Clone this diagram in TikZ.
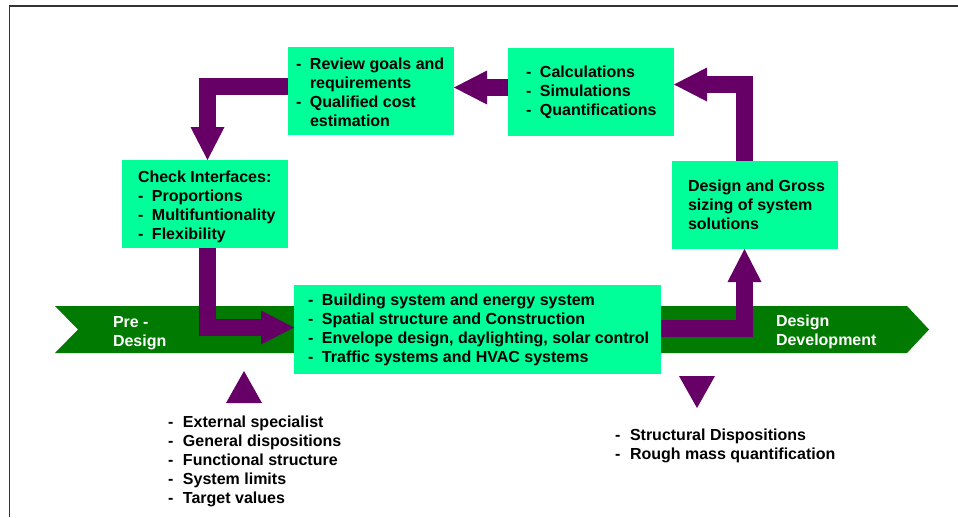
\documentclass[tikz,border=0pt]{standalone}
\usepackage{fontspec}
\setmainfont{Liberation Sans}
\usetikzlibrary{arrows.meta}
\definecolor{boxgreen}{HTML}{00FF99}
\definecolor{bandgreen}{HTML}{007A00}
\definecolor{purp}{HTML}{660066}
\definecolor{framegray}{HTML}{333333}
\newcommand{\dashitem}[2][14pt]{\makebox[#1][l]{-}#2}
\newcommand{\hangitem}[2][14pt]{\hspace*{#1}#2}
\newcommand{\ltab}[1]{\begin{tabular}[t]{@{}l@{}}#1\end{tabular}}
\begin{document}
\begin{tikzpicture}[x=1pt,y=-1pt,
  box/.style={fill=boxgreen, draw=none, inner sep=0pt, outer sep=0pt, anchor=north west},
  lbl/.style={anchor=base west, inner sep=0pt, outer sep=0pt, font=\fontsize{16}{19}\selectfont\bfseries, text=black},
  wlbl/.style={lbl, text=white},
  fat/.style={draw=purp, line width=17pt, line join=miter, line cap=butt, -{Triangle[length=33pt,width=34pt,line width=0pt]}},
  tri/.style={fill=purp}]
\useasboundingbox (0,0) rectangle (958,517);
% frame
\draw[framegray, line width=1.5pt] (9.5,517) -- (9.5,6) -- (958,6);
% band
\fill[bandgreen] (55,306) -- (907,306) -- (929,329.5) -- (907,353) -- (55,353) -- (78,329.5) -- cycle;
% boxes
\node[box, minimum width=166pt, minimum height=88pt] (review) at (288,47) {};
\node[box, minimum width=166pt, minimum height=88pt] (calc) at (508,48) {};
\node[box, minimum width=166pt, minimum height=88pt] (check) at (122,160) {};
\node[box, minimum width=166pt, minimum height=88pt] (dg) at (672,161) {};
\node[box, minimum width=367pt, minimum height=89pt] (central) at (294,285) {};
% fat arrows
\draw[fat] (review.west |- 0,86.5) -| ([xshift=2.5pt]check.north);
\draw[fat] (calc.west |- 0,87.5) -- (review.east |- 0,87.5);
\draw[fat] ([xshift=-10.5pt]dg.north) |- (calc.east |- 0,84.5);
\draw[fat] ([xshift=2.5pt]check.south) |- (central.west |- 0,327.5);
\draw[fat] (central.east |- 0,328.5) -| ([xshift=-10.5pt]dg.south);
% triangles
\fill[tri] (226,403) -- (262,403) -- (244,371) -- cycle;
\fill[tri] (679,376) -- (715,376) -- (697,408) -- cycle;
% texts
\node[lbl] (reviewtxt) at (296,69) {\ltab{\dashitem{Review goals and}\\ \hangitem{requirements}\\ \dashitem{Qualified cost}\\ \hangitem{estimation}}};
\node[lbl] (calctxt) at (526,77.5) {\ltab{\dashitem{Calculations}\\ \dashitem{Simulations}\\ \dashitem{Quantifications}}};
\node[lbl] (checktxt) at (138,182) {\ltab{Check Interfaces:\\ \dashitem{Proportions}\\ \dashitem{Multifuntionality}\\ \dashitem{Flexibility}}};
\node[lbl] (dgtxt) at (688,191.5) {\ltab{Design and Gross\\ sizing of system\\ solutions}};
\node[lbl] (centraltxt) at (308,305.8) {\ltab{\dashitem{Building system and energy system}\\ \dashitem{Spatial structure and Construction}\\ \dashitem{Envelope design, daylighting, solar control}\\ \dashitem{Traffic systems and HVAC systems}}};
\node[wlbl] (pretxt) at (113,327.5) {\ltab{Pre -\\ Design}};
\node[wlbl] (devtxt) at (776,326.5) {\ltab{Design\\ Development}};
\node[lbl] (inputtxt) at (168,427.8) {\ltab{\dashitem[15pt]{External specialist}\\ \dashitem[15pt]{General dispositions}\\ \dashitem[15pt]{Functional structure}\\ \dashitem[15pt]{System limits}\\ \dashitem[15pt]{Target values}}};
\node[lbl] (outputtxt) at (615,440.2) {\ltab{\dashitem[15pt]{Structural Dispositions}\\ \dashitem[15pt]{Rough mass quantification}}};
\end{tikzpicture}
\end{document}
